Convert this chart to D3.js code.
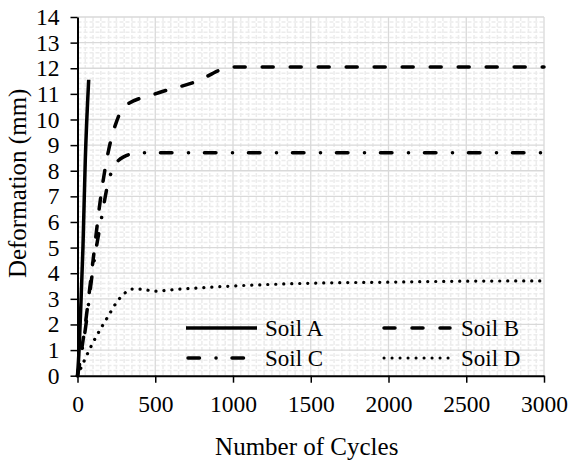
<!DOCTYPE html>
<html>
<head>
<meta charset="utf-8">
<script src="https://cdn.jsdelivr.net/npm/d3@7"></script>
<style>
  body { margin: 0; background: #fff; }
  svg, svg text { font-family: "Liberation Serif", "Times New Roman", Times, serif; }
  svg { display: block; }
</style>
</head>
<body>
<svg id="chart" width="569" height="462"></svg>
<script>
// data
const xTicks = [0, 500, 1000, 1500, 2000, 2500, 3000];
const yTicks = d3.range(0, 15);

const soilA = [[0, 0], [10, 1], [20, 2.5], [35, 5], [50, 8.4], [72, 11.55]];
const soilB = [[0, 0], [50, 2], [100, 4.5], [150, 7], [200, 8.8], [250, 9.9], [300, 10.5],
  [500, 11.0], [750, 11.45], [1000, 12.05], [1500, 12.05], [2000, 12.05], [2500, 12.05], [3000, 12.05]];
const soilC = [[0, 0], [50, 1.8], [100, 4.2], [150, 6.0], [200, 7.6], [250, 8.3], [300, 8.55],
  [400, 8.7], [1000, 8.7], [2000, 8.7], [3000, 8.7]];
const soilD = [[0, 0], [100, 1.3], [200, 2.35], [250, 2.85], [300, 3.2], [350, 3.38], [400, 3.38],
  [500, 3.3], [600, 3.35], [1000, 3.5], [1500, 3.61], [2000, 3.65], [2500, 3.69], [3000, 3.7]];

const series = [
  { name: 'Soil A', data: soilA, dash: null },
  { name: 'Soil B', data: soilB, dash: '11,17' },
  { name: 'Soil C', data: soilC, dash: '11.5,16.5,0.1,15.9' },
  { name: 'Soil D', data: soilD, dash: '0.1,7.9' }
];

const FONT = '"Liberation Serif", "Times New Roman", serif';
const svg = d3.select('#chart');
const plotL = 77.5, plotR = 544, plotT = 17, plotB = 375.7;

const x = d3.scaleLinear().domain([0, 3000]).range([plotL, plotR]);
const y = d3.scaleLinear().domain([0, 14]).range([plotB, plotT]);

// minor grid
const grid = svg.append('g');
grid.selectAll('.mx')
  .data(d3.range(50, 3000, 50).filter(v => v % 500 !== 0))
  .enter().append('line')
  .attr('x1', d => x(d)).attr('x2', d => x(d))
  .attr('y1', plotT).attr('y2', plotB)
  .attr('stroke', '#ececec').attr('stroke-width', 1.5)
  .attr('stroke-dasharray', '4,2');
grid.selectAll('.my')
  .data(d3.range(0.2, 14, 0.2).filter(v => Math.abs(v - Math.round(v)) > 0.01))
  .enter().append('line')
  .attr('x1', plotL).attr('x2', plotR)
  .attr('y1', d => y(d)).attr('y2', d => y(d))
  .attr('stroke', '#ececec').attr('stroke-width', 1.5)
  .attr('stroke-dasharray', '4,2');

// major grid
grid.selectAll('.gx')
  .data(xTicks.slice(1))
  .enter().append('line')
  .attr('x1', d => x(d)).attr('x2', d => x(d))
  .attr('y1', plotT).attr('y2', plotB)
  .attr('stroke', '#d9d9d9').attr('stroke-width', 1.3);
grid.selectAll('.gy')
  .data(yTicks.slice(1))
  .enter().append('line')
  .attr('x1', plotL).attr('x2', plotR)
  .attr('y1', d => y(d)).attr('y2', d => y(d))
  .attr('stroke', '#d9d9d9').attr('stroke-width', 1.3);

// axes
const xAxis = svg.append('g')
  .attr('transform', `translate(0,${plotB})`)
  .call(d3.axisBottom(x).tickValues(xTicks).tickFormat(d3.format('d'))
    .tickSize(7).tickSizeOuter(0).tickPadding(13));
const yAxis = svg.append('g')
  .attr('transform', `translate(${plotL},0)`)
  .call(d3.axisLeft(y).tickValues(yTicks).tickFormat(d3.format('d'))
    .tickSize(7).tickSizeOuter(0).tickPadding(11));

[xAxis, yAxis].forEach(ax => {
  ax.attr('font-family', FONT).attr('font-size', 23.5);
  ax.select('.domain').attr('stroke', '#000').attr('stroke-width', 2);
  ax.selectAll('.tick line').attr('stroke', '#000').attr('stroke-width', 1.5);
  ax.selectAll('.tick text').attr('fill', '#000');
});

// lines
const line = d3.line().x(d => x(d[0])).y(d => y(d[1])).curve(d3.curveMonotoneX);
svg.append('g').selectAll('path')
  .data(series)
  .enter().append('path')
  .attr('d', d => line(d.data))
  .attr('fill', 'none')
  .attr('stroke', '#000')
  .attr('stroke-width', d => d.name === 'Soil D' ? 3.2 : 3.5)
  .attr('stroke-linecap', d => d.dash ? 'round' : 'butt')
  .attr('stroke-dasharray', d => d.dash);

// legend
const legPos = [[186, 328], [382, 328], [186, 358], [382, 358]];
const leg = svg.append('g').selectAll('g')
  .data(series)
  .enter().append('g')
  .attr('transform', (d, i) => `translate(${legPos[i][0]},${legPos[i][1]})`);
leg.append('line')
  .attr('x1', d => d.dash ? 2 : 0).attr('x2', d => d.dash ? 68 : 71)
  .attr('stroke', '#000')
  .attr('stroke-width', d => d.name === 'Soil D' ? 3 : 3.5)
  .attr('stroke-linecap', d => d.dash ? 'round' : 'butt')
  .attr('stroke-dasharray', d => d.dash);
leg.append('text')
  .attr('x', 79).attr('y', 8)
  .attr('font-family', FONT).attr('font-size', 23)
  .text(d => d.name);

// axis titles
svg.append('text')
  .attr('x', (plotL + plotR) / 2 - 4).attr('y', 455)
  .attr('text-anchor', 'middle')
  .attr('font-family', FONT).attr('font-size', 25)
  .text('Number of Cycles');
svg.append('text')
  .attr('transform', `translate(26,${(plotT + plotB) / 2 - 13}) rotate(-90)`)
  .attr('text-anchor', 'middle')
  .attr('font-family', FONT).attr('font-size', 25)
  .text('Deformation (mm)');
</script>
</body>
</html>
